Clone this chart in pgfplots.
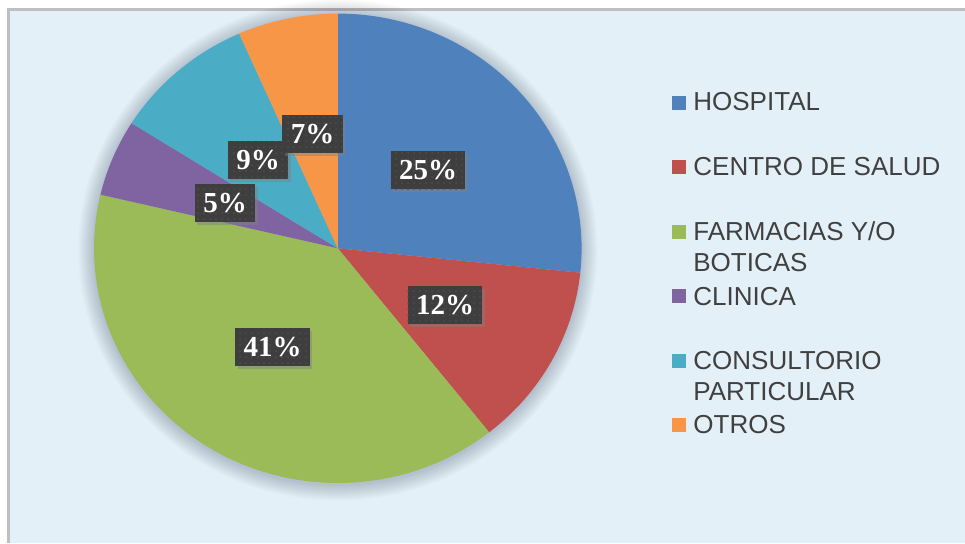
\documentclass[border=0pt]{standalone}
\usepackage{fontspec}
\usepackage{pgfplots}
\pgfplotsset{compat=1.18}
\usepackage{pgfplotstable}
\usetikzlibrary{shadows,patterns}
\setmainfont{Liberation Sans}
\newfontfamily\labfont{Liberation Serif}

\definecolor{slice0}{HTML}{4F81BD}
\definecolor{slice1}{HTML}{C0504D}
\definecolor{slice2}{HTML}{9BBB59}
\definecolor{slice3}{HTML}{8064A2}
\definecolor{slice4}{HTML}{4BACC6}
\definecolor{slice5}{HTML}{F79646}
\definecolor{bgblue}{HTML}{E4F0F7}
\definecolor{legtext}{HTML}{404040}
\definecolor{framegray}{HTML}{BFBFBF}
\definecolor{boxgray}{HTML}{3E3E3E}
\definecolor{dotgray}{HTML}{4E4E4E}

\tikzset{
  lab/.style={fill=boxgray, text=white, inner xsep=4.2pt, minimum height=19pt,
    font=\labfont\bfseries\fontsize{14.5}{16}\selectfont,
    drop shadow={shadow xshift=1.2pt, shadow yshift=-1.4pt, opacity=0.45},
    postaction={pattern=dots, pattern color=dotgray}},
  leg/.style={anchor=base west, inner sep=0pt, text=legtext,
    font=\fontsize{13}{15}\selectfont},
}

% slice value (share of the circle, %), printed label, label position (px)
\pgfplotstableread{
slice value label lx ly
0 26.66 25 428 170
1 12.68 12 445 305
2 39.33 41 272.5 347
3 5.28 5 225 203
4 9.42 9 258 160
5 6.63 7 312.5 133.7
}\piedata

\begin{document}
\begin{tikzpicture}
\begin{axis}[
  scale only axis, width=482.5pt, height=271.5pt,
  xmin=0, xmax=965, ymin=0, ymax=543, y dir=reverse,
  hide axis, clip=false,
]
% background and frame
\fill[white] (axis cs:0,0) rectangle (axis cs:965,543);
\fill[bgblue] (axis cs:8.5,9.5) rectangle (axis cs:965,543);
\draw[framegray, line width=1.1pt] (axis cs:8.5,543) -- (axis cs:8.5,9.5) -- (axis cs:965,9.5);

% soft shadow round the pie
\pgfplotsforeachungrouped \k in {1,...,16}{
  \pgfmathsetmacro\rx{121.9+0.5*\k}
  \pgfmathsetmacro\ry{117.35+0.5*\k}
  \edef\tmp{\noexpand\fill[black!80!blue, opacity=0.011] (axis cs:337.8,250) ellipse [x radius=\rx pt, y radius=\ry pt];}
  \tmp
}

% pie slices
\pgfplotstablegetrowsof{\piedata}
\pgfmathtruncatemacro\lastrow{\pgfplotsretval-1}
\def\cum{0}
\pgfplotsforeachungrouped \i in {0,...,\lastrow}{
  \pgfplotstablegetelem{\i}{value}\of\piedata
  \let\val\pgfplotsretval
  \pgfmathsetmacro\sa{90-3.6*\cum}
  \pgfmathsetmacro\ea{90-3.6*(\cum+\val)}
  \edef\tmp{\noexpand\fill[slice\i] (axis cs:337.8,248.3) -- ++({121.9pt*cos(\sa)},{117.35pt*sin(\sa)})
    arc[start angle=\sa, end angle=\ea, x radius=121.9pt, y radius=117.35pt] -- cycle;}
  \tmp
  \pgfmathsetmacro\cum{\cum+\val}
}

% data labels
\pgfplotsforeachungrouped \i in {0,...,\lastrow}{
  \pgfplotstablegetelem{\i}{label}\of\piedata \let\lab\pgfplotsretval
  \pgfplotstablegetelem{\i}{lx}\of\piedata \let\lx\pgfplotsretval
  \pgfplotstablegetelem{\i}{ly}\of\piedata \let\ly\pgfplotsretval
  \edef\tmp{\noexpand\node[lab] at (axis cs:\lx,\ly) {\lab\noexpand\%};}
  \tmp
}

% legend
\fill[slice0] (axis cs:672,96) rectangle (axis cs:686,110);
\fill[slice1] (axis cs:672,160) rectangle (axis cs:686,174);
\fill[slice2] (axis cs:672,225) rectangle (axis cs:686,239);
\fill[slice3] (axis cs:672,289) rectangle (axis cs:686,303);
\fill[slice4] (axis cs:672,354) rectangle (axis cs:686,368);
\fill[slice5] (axis cs:672,418) rectangle (axis cs:686,432);
\node[leg] at (axis cs:693,110.7) {HOSPITAL};
\node[leg] at (axis cs:693,175) {CENTRO DE SALUD};
\node[leg] at (axis cs:693,240) {FARMACIAS Y/O};
\node[leg] at (axis cs:693,271) {BOTICAS};
\node[leg] at (axis cs:693,305) {CLINICA};
\node[leg] at (axis cs:693,369) {CONSULTORIO};
\node[leg] at (axis cs:693,400) {PARTICULAR};
\node[leg] at (axis cs:693,433.3) {OTROS};
\end{axis}
\pgfresetboundingbox
\path (current axis.south west) rectangle (current axis.north east);
\end{tikzpicture}
\end{document}
